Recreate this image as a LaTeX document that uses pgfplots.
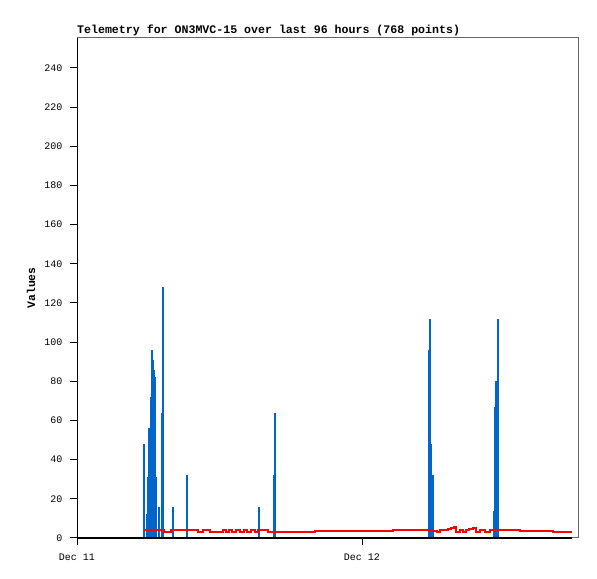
\documentclass[border=0pt]{standalone}
\usepackage{fontspec}
\setmainfont{Liberation Mono}
\usepackage{pgfplots}
\pgfplotsset{compat=1.18}
\definecolor{telblue}{HTML}{0066CC}
\definecolor{framegray}{HTML}{666666}

\begin{document}
\begin{tikzpicture}
\useasboundingbox (0,0) rectangle (597bp,579bp);
\begin{axis}[
  at={(77bp,41bp)}, anchor=south west,
  scale only axis, width=501bp, height=500bp,
  xmin=0, xmax=42.19, ymin=0, ymax=255.3,
  clip=false,
  axis line style={draw=framegray, line width=1bp},
  xtick={0,24}, xticklabels={Dec 11, Dec 12},
  ytick={0,20,...,240},
  xtick pos=bottom, ytick pos=left,
  tick align=outside, major tick length=7bp,
  tick style={black, line width=1bp},
  /pgf/number format/assume math mode=true,
  tick label style={font=\fontsize{10bp}{12bp}\selectfont},
  xticklabel style={yshift=-5bp},
  yticklabel style={xshift=-4bp},
  title={\bfseries Telemetry for ON3MVC-15 over last 96 hours (768 points)},
  title style={at={(rel axis cs:0,1)}, anchor=base west, yshift=-1bp, inner sep=0pt,
    font=\fontsize{11.6bp}{13bp}\selectfont},
  ylabel={\bfseries Values},
  every axis y label/.style={at={(rel axis cs:0,0.5)}, rotate=90, anchor=center,
    yshift=46bp, font=\fontsize{11.4bp}{13bp}\selectfont},
  after end axis/.code={\draw[black, line width=1bp] (rel axis cs:0,0) -- (rel axis cs:0,1);},
]
% blue spikes
\addplot[ycomb, telblue, line width=2bp, mark=none] coordinates {
  (5.64,48) (5.88,12) (5.98,31) (6.09,56) (6.20,72) (6.28,88) (6.32,96)
  (6.38,91) (6.47,86) (6.55,82) (6.65,31) (6.91,16) (7.12,64) (7.24,128)
  (8.08,16) (9.25,32) (15.32,16) (16.59,32) (16.67,64)
  (29.63,96) (29.72,112) (29.83,48) (29.95,32)
  (35.08,14) (35.16,40) (35.23,67) (35.30,80) (35.44,112)
};
% red series
\addplot[const plot, red, line width=2bp, mark=none] coordinates {
  (5.64,3.9) (7.33,3.0) (7.92,3.9) (10.19,3.0) (10.61,3.9) (11.20,3.0)
  (12.29,3.9) (12.55,3.0) (12.80,3.9) (13.05,3.0) (13.39,3.9) (13.73,3.0)
  (14.06,3.9) (14.32,3.0) (14.65,3.9) (14.99,3.0) (15.24,3.9) (16.08,3.0)
  (20.04,3.4) (26.61,3.9) (29.98,3.6) (30.32,3.0) (30.57,3.9) (30.9,4.3)
  (31.2,4.7) (31.49,5.1) (31.75,5.6) (31.92,3.0) (32.25,3.9) (32.51,3.0)
  (32.76,3.9) (33.0,4.4) (33.35,4.9) (33.6,3.0) (33.94,3.9) (34.35,3.0)
  (34.78,3.9) (37.31,3.4) (40.08,2.9) (41.68,2.9)
};
% black series at zero
\addplot[black, line width=2.5bp, mark=none] coordinates {
  (0,0) (41.68,0)
};
\end{axis}
\end{tikzpicture}
\end{document}
